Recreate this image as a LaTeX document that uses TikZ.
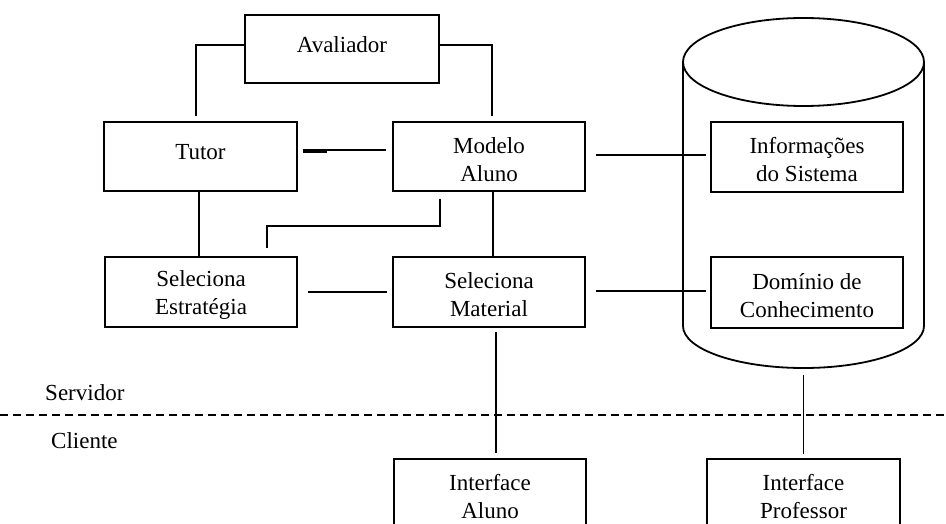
\documentclass[tikz,border=0pt]{standalone}
\usepackage{fontspec}
\setmainfont{Liberation Serif}
\usetikzlibrary{calc}
\begin{document}
\begin{tikzpicture}[x=1pt,y=-1pt,line width=1.8pt,
  txt/.style={font=\fontsize{23}{28}\selectfont},
  box/.style={draw, rectangle, inner sep=0pt, minimum width=192pt,
    minimum height=69pt, align=center, txt},
  oneline/.style={text depth=9pt},
  twoline/.style={text height=50pt},
  side/.style={txt, anchor=base west},
  divider/.style={dash pattern=on 8pt off 5pt}]
\useasboundingbox (0,0) rectangle (946,524);

% process boxes
\node[box, oneline, minimum width=194pt, minimum height=68pt] (av) at (342,49) {Avaliador};
\node[box, oneline, minimum width=193pt] (tutor) at (200.5,156.5) {Tutor};
\node[box, twoline] (modelo) at (489,156.5) {Modelo\\Aluno};
\node[box, twoline, minimum height=70pt] (estr) at (201,292) {Seleciona\\Estratégia};
\node[box, twoline, minimum height=70pt] (mat) at (489,292) {Seleciona\\Material};

% knowledge base cylinder
\draw (683,62) -- (683,326) arc[start angle=180, end angle=360, x radius=120.5pt, y radius=42pt] -- (924,62);
\draw (803.5,62) ellipse[x radius=120.5pt, y radius=44pt];
\coordinate (dbbottom) at (803.5,375);
\node[box, twoline, minimum height=70pt] (info) at (807,157) {Informações\\do Sistema};
\node[box, twoline, minimum height=71pt] (dom) at (807,292.5) {Domínio de\\Conhecimento};

% client interfaces
\node[box, twoline] (ialuno) at (490,493.5) {Interface\\Aluno};
\node[box, twoline, minimum width=193pt] (iprof) at (803.5,493.5) {Interface\\Professor};

% server / client split
\coordinate (dl) at (0,415);
\coordinate (dr) at (946,415);
\draw[divider] (dl) -- (dr);
\node[side] (serv) at (41,400) {Servidor};
\node[side] (cli) at (47,448) {Cliente};

% connectors
\draw (av.west |- 0,45) -| ($(tutor.north west)+(93,-5)$);
\draw (av.east |- 0,45) -| ($(modelo.north west)+(100,-5)$);
\draw ($(tutor.east)+(5,-6.5)$) -- ($(modelo.west)+(-6,-6.5)$);
\draw ($(tutor.east)+(5,-4.5)$) -- ($(tutor.east)+(29,-4.5)$);
\draw (tutor.south -| 199,0) -- (estr.north -| 199,0);
\draw ($(modelo.south west)+(48,7)$) |- ($(estr.north west)+(163,-30)$) -- ($(estr.north west)+(163,-8)$);
\draw (modelo.south -| 493,0) -- (mat.north -| 493,0);
\draw ($(estr.east)+(10,0)$) -- ($(mat.west)+(-5,0)$);
\draw ($(modelo.east)+(10,-1.5)$) -- ($(info.west)+(-4,-2)$);
\draw ($(mat.east)+(10,-1)$) -- ($(dom.west)+(-4,-1.5)$);
\draw ($(mat.south)+(7,4)$) -- ($(ialuno.north)+(6,-5)$);
\draw (dbbottom) -- ($(iprof.north)+(0,-4)$);
\end{tikzpicture}
\end{document}
